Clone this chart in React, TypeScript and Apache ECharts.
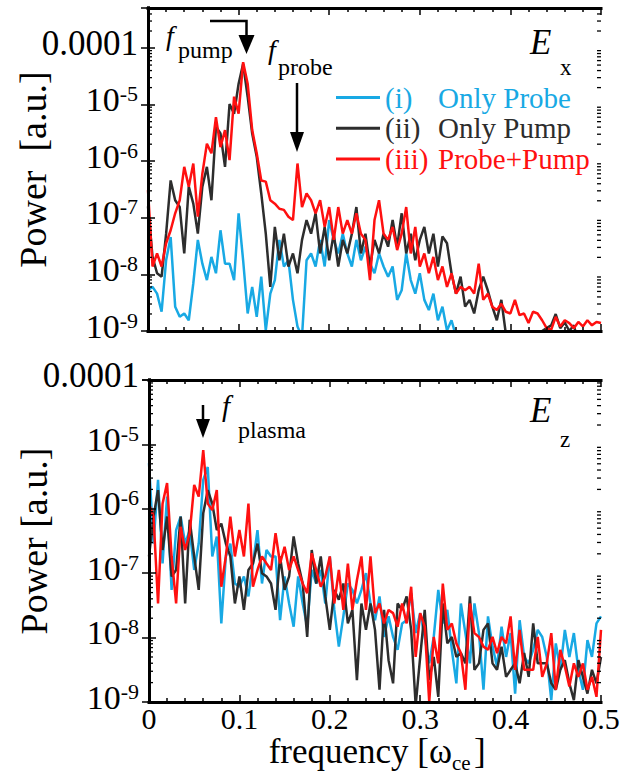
import React, { useEffect, useRef } from 'react';
import * as echarts from 'echarts';

// ---------- data (log10 of power), frequency grid step in units of ω_ce ----------
const FREQ_STEP = 0.005;

// Upper panel, E_x
const exProbeLog = [
  -8.28, -8.22, -8.34, -8.66, -7.75, -7.34, -8.57, -8.75, -8.69, -8.81,
  -8.16, -7.39, -7.81, -8.1, -7.69, -7.98, -7.22, -7.81, -7.81, -8.1,
  -6.92, -7.75, -8.69, -8.22, -8.75, -8.04, -8.99, -8.34, -8.1, -7.39,
  -7.86, -7.75, -8.45, -8.92, -9.1, -7.75, -7.63, -7.86, -7.39, -7.86,
  -7.04, -7.39, -7.63, -7.28, -7.63, -7.86, -7.39, -7.75, -7.51, -7.81,
  -7.98, -7.63, -7.86, -8.04, -7.86, -8.45, -8.28, -7.63, -8.1, -8.34,
  -7.98, -8.45, -8.63, -8.34, -8.81, -8.57, -8.99, -8.81, -9.1, -9.3,
  -9.2, -9.4, -9.3, -9.2, -9.3, -9.1, -8.97, -9.2, -9.3, -9.4,
  -9.2, -9.35, -9.3, -9.4, -9.25, -9.3, -9.5, -9.3, -9.4, -9.3,
  -9.2, -9.35, -9.4, -9.3, -9.5, -9.3, -9.4, -9.3, -9.2, -9.4,
  -9.3,
];
const exPumpLog = [
  -6.8, -7.69, -7.98, -8.04, -7.28, -6.34, -6.69, -6.81, -7.63, -6.45,
  -6.75, -7.28, -6.45, -6.1, -6.69, -5.39, -5.51, -6.1, -4.99, -5.16,
  -4.63, -4.28, -4.86, -5.51, -5.92, -6.57, -7.28, -8.22, -7.16, -7.75,
  -7.28, -7.86, -7.63, -7.98, -7.39, -7.04, -7.28, -6.92, -7.63, -7.16,
  -7.75, -7.28, -7.86, -7.39, -7.63, -7.28, -6.81, -7.63, -7.28, -7.86,
  -7.39, -7.63, -7.28, -7.51, -7.04, -7.51, -6.92, -7.63, -7.28, -7.75,
  -7.39, -7.16, -7.63, -7.28, -7.86, -7.33, -7.45, -7.98, -8.34, -8.04,
  -8.57, -8.45, -8.69, -8.28, -8.04, -8.28, -8.57, -8.81, -8.45, -9.05,
  -9.05, -9.3, -9.2, -9.4, -9.1, -9.3, -9.2, -9.0, -8.95, -8.9,
  -8.7, -8.95, -8.85, -9.0, -8.9, -9.2, -9.3, -9.1, -9.3, -9.2,
  -9.4,
];
const exBothLog = [
  -6.51, -7.86, -7.63, -7.86, -7.45, -7.22, -6.92, -6.69, -6.1, -6.45,
  -6.04, -6.98, -6.22, -5.69, -5.86, -5.22, -5.75, -5.45, -5.98, -4.86,
  -5.16, -4.25, -4.63, -5.45, -5.86, -6.34, -6.36, -6.69, -6.75, -6.84,
  -6.86, -6.98, -7.04, -6.04, -6.81, -6.57, -6.69, -6.92, -6.69, -7.16,
  -6.81, -7.39, -6.81, -7.28, -7.04, -7.28, -6.92, -7.28, -7.39, -8.1,
  -7.04, -6.69, -7.28, -7.39, -7.16, -7.57, -7.28, -6.81, -7.63, -7.16,
  -7.86, -7.63, -7.98, -7.69, -8.1, -7.86, -8.22, -7.98, -8.34, -8.22,
  -8.28, -8.22, -8.34, -7.81, -8.45, -8.34, -8.57, -8.63, -8.52, -8.66,
  -8.69, -8.45, -8.72, -8.69, -8.86, -8.66, -8.69, -8.81, -8.95, -8.98,
  -8.75, -8.92, -8.81, -8.86, -8.95, -8.84, -8.92, -8.81, -8.9, -8.84,
  -8.86,
];

// Lower panel, E_z
const ezProbeLog = [
  -5.29, -6.54, -5.55, -6.85, -5.81, -7.26, -6.33, -6.12, -6.54, -6.33,
  -6.95, -6.54, -5.55, -5.35, -6.74, -6.43, -7.78, -6.74, -6.54, -7.16,
  -7.21, -7.05, -7.36, -6.85, -6.33, -7.16, -6.64, -6.74, -6.74, -7.73,
  -7.05, -7.47, -7.83, -7.05, -7.47, -7.83, -6.95, -7.16, -6.95, -7.47,
  -6.74, -7.57, -8.14, -7.67, -7.16, -7.26, -7.47, -7.26, -7.0, -7.47,
  -7.73, -7.36, -7.99, -7.67, -7.99, -8.19, -7.78, -7.73, -7.31, -7.93,
  -7.62, -7.99, -8.4, -7.99, -7.26, -7.78, -7.57, -8.19, -8.71, -7.47,
  -7.93, -8.4, -7.47, -7.93, -8.81, -7.67, -8.14, -8.45, -7.83, -8.3,
  -7.93, -8.87, -7.73, -8.3, -8.4, -8.19, -7.88, -7.99, -8.3, -8.97,
  -8.09, -8.5, -7.88, -8.3, -7.93, -8.5, -8.81, -8.04, -8.3, -7.78,
  -7.67,
];
const ezPumpLog = [
  -6.74, -6.12, -5.71, -6.64, -6.12, -7.05, -6.95, -6.12, -7.47, -6.17,
  -6.74, -7.26, -6.07, -5.71, -5.92, -6.33, -6.23, -6.54, -6.74, -7.47,
  -7.05, -7.57, -6.95, -6.85, -6.54, -7.0, -7.05, -7.16, -7.57, -6.74,
  -7.26, -7.05, -6.43, -6.85, -7.16, -7.99, -6.64, -7.16, -6.74, -7.36,
  -7.88, -7.26, -7.41, -7.16, -7.78, -7.57, -8.66, -7.47, -7.88, -7.47,
  -7.88, -8.81, -7.57, -8.35, -8.71, -7.47, -7.57, -7.36, -7.88, -9.05,
  -8.3, -7.57, -8.66, -8.3, -8.92, -7.47, -8.09, -7.99, -8.3, -8.24,
  -8.4, -7.36, -8.5, -8.4, -7.88, -7.78, -8.4, -8.5, -8.14, -8.61,
  -8.5, -8.4, -8.71, -8.24, -8.61, -7.78, -8.4, -8.4, -8.4, -8.71,
  -8.81, -8.5, -8.35, -8.71, -8.97, -8.35, -8.61, -8.87, -8.5, -8.71,
  -8.3,
];
const ezBothLog = [
  -5.92, -6.12, -7.47, -5.92, -5.6, -6.74, -7.47, -6.28, -6.64, -6.38,
  -5.63, -5.81, -5.09, -5.92, -6.02, -5.71, -7.21, -6.74, -6.12, -6.74,
  -6.33, -6.74, -5.92, -7.21, -6.95, -6.74, -6.85, -6.95, -6.38, -6.85,
  -6.59, -6.95, -6.74, -6.95, -7.16, -7.31, -6.69, -6.95, -7.21, -7.05,
  -6.74, -7.47, -6.95, -7.57, -6.85, -7.57, -7.11, -6.74, -7.57, -6.74,
  -7.62, -7.47, -7.78, -7.57, -7.62, -7.83, -7.47, -7.78, -7.21, -8.3,
  -7.62, -7.83, -9.0, -7.99, -8.4, -7.16, -7.88, -7.78, -8.09, -8.24,
  -8.81, -7.47, -7.93, -7.99, -8.14, -8.19, -7.99, -8.24, -7.99, -8.09,
  -7.67, -8.5, -7.88, -8.5, -8.5, -8.5, -7.99, -8.61, -8.4, -7.93,
  -8.81, -8.19, -8.45, -8.76, -8.4, -8.61, -8.4, -8.81, -8.61, -8.92,
  -7.88,
];

const SERIES_NAMES = ['(i) Only Probe', '(ii) Only Pump', '(iii) Probe+Pump'];
const LEGEND_ROMAN = ['(i)', '(ii)', '(iii)'];
const LEGEND_TEXT = ['Only Probe', 'Only Pump', 'Probe+Pump'];
const X_TICKS = [0, 0.1, 0.2, 0.3, 0.4, 0.5];
const Y_MIN = 1e-9;
const Y_MAX_TOP = 5.1e-4;
const Y_MAX_BOTTOM = 1e-4;

// ---------- styling ----------
const FONT = '"Liberation Serif", "Times New Roman", serif';
const BLUE = '#18A9E4';
const DARK = '#2D2D2D';
const RED = '#FF1010';
const COLORS = [BLUE, DARK, RED];

const toPoints = (exps: number[]) =>
  exps.map((e, i) => [Math.round(i * FREQ_STEP * 1000) / 1000, Math.pow(10, e)]);

// log minor tick values (2..9 × decade)
const minorTicks = (maxVal: number) => {
  const out: number[][] = [];
  for (let d = -9; d <= -4; d++) {
    for (let m = 2; m <= 9; m++) {
      const v = m * Math.pow(10, d);
      if (v < maxVal * 0.999) out.push([0, v]);
    }
  }
  return out;
};

const yLabelFormatter = (v: number) => {
  const e = Math.log10(v);
  const r = Math.round(e);
  if (Math.abs(e - r) > 1e-6) return '';
  if (r === -4) return '{d|0.0001}';
  return `{b|10}{s|${r}}`;
};

const AXIS_LINE = { show: true, lineStyle: { color: '#000', width: 3, cap: 'square' } };

function makeYAxes(gridIndex: number, max: number, name: string) {
  const common: any = {
    type: 'log',
    logBase: 10,
    min: Y_MIN,
    max,
    gridIndex,
    z: 10,
    axisLine: AXIS_LINE,
    axisTick: { show: true, inside: true, length: 7, lineStyle: { color: '#000', width: 1.5 } },
    splitLine: { show: false },
  };
  return [
    {
      ...common,
      position: 'left',
      name,
      nameLocation: 'middle',
      nameGap: 96,
      nameMoveOverlap: false,
      nameTextStyle: { fontFamily: FONT, fontSize: 38, color: '#000' },
      axisLabel: {
        show: true,
        margin: 10,
        formatter: yLabelFormatter,
        padding: [0, 0, 10, 0],
        rich: {
          d: { fontFamily: FONT, fontSize: 35, color: '#000' },
          b: { fontFamily: FONT, fontSize: 34, color: '#000' },
          s: { fontFamily: FONT, fontSize: 22, color: '#000', verticalAlign: 'top' },
        },
      },
    },
    { ...common, position: 'right', axisLabel: { show: false } },
  ];
}

function makeXAxes(gridIndex: number, showLabels: boolean) {
  const common: any = {
    type: 'value',
    min: X_TICKS[0],
    max: X_TICKS[X_TICKS.length - 1],
    interval: 0.1,
    gridIndex,
    z: 10,
    axisLine: AXIS_LINE,
    axisTick: { show: true, inside: true, length: 7, lineStyle: { color: '#000', width: 1.5 } },
    minorTick: { show: true, splitNumber: 5, length: 4, lineStyle: { color: '#000', width: 1.5 } },
    splitLine: { show: false },
  };
  return [
    {
      ...common,
      position: 'bottom',
      axisLabel: showLabels
        ? { show: true, fontFamily: FONT, fontSize: 30, color: '#000', margin: 3, lineHeight: 26 }
        : { show: false },
    },
    { ...common, position: 'top', axisLabel: { show: false } },
  ];
}

function lineSeries(name: string, exps: number[], color: string, xi: number, yi: number) {
  return {
    type: 'line',
    name,
    xAxisIndex: xi,
    yAxisIndex: yi,
    data: toPoints(exps),
    showSymbol: false,
    symbol: 'none',
    color,
    lineStyle: { color, width: 2.5 },
    z: 2,
    clip: true,
  };
}

function minorTickSeries(xi: number, yi: number, maxVal: number) {
  return {
    type: 'custom',
    xAxisIndex: xi,
    yAxisIndex: yi,
    silent: true,
    clip: false,
    z: 11,
    data: minorTicks(maxVal),
    encode: { x: 0, y: 1 },
    renderItem: (_p: any, api: any) => {
      const v = api.value(1);
      const l = api.coord([0, v]);
      const r = api.coord([0.5, v]);
      const st = { stroke: '#000', lineWidth: 1.3 };
      return {
        type: 'group',
        children: [
          { type: 'line', shape: { x1: l[0], y1: l[1], x2: l[0] + 4, y2: l[1] }, style: st },
          { type: 'line', shape: { x1: r[0], y1: r[1], x2: r[0] - 4, y2: r[1] }, style: st },
        ],
      };
    },
  };
}

const txt = (
  text: string,
  x: number,
  y: number,
  size: number,
  italic = false,
  align = 'left',
  lineHeight?: number,
) => ({
  type: 'text',
  x,
  y,
  z: 20,
  style: {
    text,
    fill: '#000',
    fontFamily: FONT,
    fontSize: size,
    fontStyle: italic ? 'italic' : 'normal',
    align,
    verticalAlign: 'middle',
    lineHeight: lineHeight || size,
  },
});

const ARROW = { stroke: '#000', lineWidth: 2.5 };

const graphics = [
  // E_x
  txt('E', 530, 42, 35, true),
  txt('x', 560, 67, 23),
  // f_pump with bent arrow
  txt('f', 166, 35, 28, true),
  txt('pump', 178, 50, 24),
  { type: 'polyline', z: 20, shape: { points: [[210, 21], [246.5, 21], [246.5, 40]] }, style: { ...ARROW, fill: null } },
  { type: 'polygon', z: 20, shape: { points: [[238.5, 35], [254.5, 35], [246.5, 54]] }, style: { fill: '#000' } },
  // f_probe with arrow
  txt('f', 268, 49, 28, true),
  txt('probe', 278, 67, 24),
  { type: 'line', z: 20, shape: { x1: 297, y1: 83, x2: 297, y2: 135 }, style: ARROW },
  { type: 'polygon', z: 20, shape: { points: [[290, 132], [304, 132], [297, 152]] }, style: { fill: '#000' } },
  // E_z
  txt('E', 530, 410, 35, true),
  txt('z', 560, 439, 23),
  // f_plasma with arrow
  txt('f', 222, 406, 29, true),
  txt('plasma', 238, 430, 24),
  { type: 'line', z: 20, shape: { x1: 203, y1: 405, x2: 203, y2: 422 }, style: ARROW },
  { type: 'polygon', z: 20, shape: { points: [[196, 419], [210, 419], [203, 438]] }, style: { fill: '#000' } },
  // x-axis title
  txt('frequency [ω', 452, 751, 35, false, 'right', 30),
  txt('ce', 452, 763, 21, false, 'left', 18),
  txt(']', 474, 751, 35, false, 'left', 30),
];

const option: any = {
  animation: false,
  backgroundColor: '#fff',
  grid: [
    { left: 148, top: 8, width: 453, height: 323, containLabel: false, outerBoundsMode: 'none' },
    { left: 149, top: 380, width: 452, height: 322, containLabel: false, outerBoundsMode: 'none' },
  ],
  xAxis: [...makeXAxes(0, false), ...makeXAxes(1, true)],
  yAxis: [
    ...makeYAxes(0, Y_MAX_TOP, 'Power  [a.u.]'),
    ...makeYAxes(1, Y_MAX_BOTTOM, 'Power [a.u.]'),
  ],
  legend: {
    show: true,
    orient: 'vertical',
    left: 331,
    top: 78,
    itemWidth: 44,
    itemHeight: 3,
    itemGap: 1.8,
    icon: 'rect',
    selectedMode: false,
    data: SERIES_NAMES.map((n, k) => ({ name: n, textStyle: { color: COLORS[k] } })),
    textStyle: {
      fontFamily: FONT,
      fontSize: 29,
      lineHeight: 29,
      rich: {
        a: { fontFamily: FONT, fontSize: 29, lineHeight: 29, width: 53 },
        b: { fontFamily: FONT, fontSize: 29, lineHeight: 29 },
      },
    },
    formatter: (name: string) => {
      const k = SERIES_NAMES.indexOf(name);
      return `{a|${LEGEND_ROMAN[k]}}{b|${LEGEND_TEXT[k]}}`;
    },
  },
  graphic: graphics,
  series: [
    lineSeries(SERIES_NAMES[0], exProbeLog, BLUE, 0, 0),
    lineSeries(SERIES_NAMES[1], exPumpLog, DARK, 0, 0),
    lineSeries(SERIES_NAMES[2], exBothLog, RED, 0, 0),
    lineSeries(SERIES_NAMES[0], ezProbeLog, BLUE, 2, 2),
    lineSeries(SERIES_NAMES[1], ezPumpLog, DARK, 2, 2),
    lineSeries(SERIES_NAMES[2], ezBothLog, RED, 2, 2),
    minorTickSeries(0, 0, Y_MAX_TOP),
    minorTickSeries(2, 2, Y_MAX_BOTTOM),
  ],
};

export default function App() {
  const ref = useRef<HTMLDivElement>(null);
  useEffect(() => {
    const chart = echarts.init(ref.current as HTMLDivElement, null, { renderer: 'svg' });
    chart.setOption(option);
    return () => chart.dispose();
  }, []);
  return (
    <div
      ref={ref}
      style={{ position: 'fixed', left: 0, top: 0, width: 640, height: 776, background: '#fff' }}
    />
  );
}
